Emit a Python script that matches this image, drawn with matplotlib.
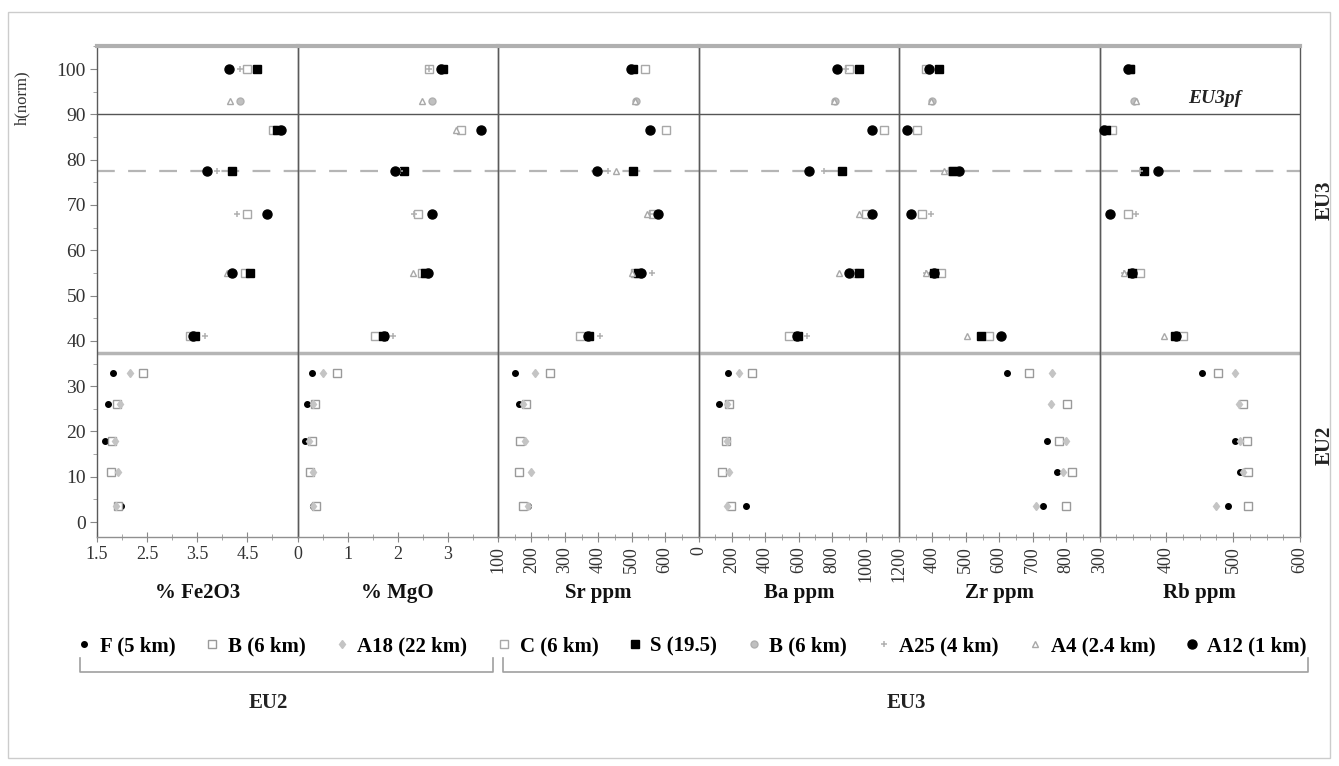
import numpy as np
import matplotlib
matplotlib.use("Agg")
import matplotlib.pyplot as plt
from matplotlib.lines import Line2D
from matplotlib.patches import Rectangle
from matplotlib.ticker import FixedLocator, MultipleLocator

plt.rcParams['font.family'] = ['Liberation Serif', 'DejaVu Serif']

nan = np.nan
# ---------------- data ----------------
panel_titles = ['% Fe2O3', '% MgO', 'Sr ppm', 'Ba ppm', 'Zr ppm', 'Rb ppm']
x_ranges = [(1.5, 5.5), (0, 4), (100, 700), (0, 1200), (300, 900), (300, 600)]
x_ticks = [[1.5, 2.5, 3.5, 4.5], [0, 1, 2, 3], [100, 200, 300, 400, 500, 600],
           [0, 200, 400, 600, 800, 1000, 1200], [400, 500, 600, 700, 800],
           [300, 400, 500, 600]]
x_tick_labels = [['1.5', '2.5', '3.5', '4.5'], ['0', '1', '2', '3'],
                 ['100', '200', '300', '400', '500', '600'],
                 ['0', '200', '400', '600', '800', '1000', '1200'],
                 ['400', '500', '600', '700', '800'],
                 ['300', '400', '500', '600']]
y_ticks = [0, 10, 20, 30, 40, 50, 60, 70, 80, 90, 100]

h_eu3 = [100, 93, 86.5, 77.5, 68, 55, 41]
h_eu2 = [33, 26, 18, 11, 3.5]

# EU2 series (rows h_eu2), one list per panel
F_5km = [[1.82, 1.72, 1.66, nan, 1.98],
         [0.28, 0.18, 0.14, nan, 0.30],
         [150, 163, nan, nan, 190],
         [174, 120, nan, nan, 282],
         [624, nan, 744, 774, 732],
         [453, 512, 502, 510, 492]]
B_6km_eu2 = [[2.42, 1.90, 1.80, 1.78, 1.92],
             [0.78, 0.34, 0.28, 0.24, 0.36],
             [255, 184, 166, 163, 175],
             [318, 180, 162, 138, 192],
             [690, 804, 780, 819, 801],
             [477, 514, 520, 522, 522]]
A18_22km = [[2.15, 1.95, 1.85, 1.92, 1.88],
            [0.50, 0.30, 0.22, 0.30, 0.30],
            [210, 175, 180, 198, 190],
            [240, 170, 170, 180, 170],
            [759, 756, 800, 790, 711],
            [502, 508, 510, 515, 475]]

# EU3 series (rows h_eu3)
C_6km = [[4.49, nan, 5.02, nan, 4.49, 4.45, 3.35],
         [2.63, nan, 3.26, nan, 2.40, 2.48, 1.55],
         [539, nan, 602, nan, 565, 510, 345],
         [900, nan, 1110, nan, 1000, 935, 540],
         [381, nan, 354, 459, 369, 426, 570],
         [345, nan, 318, nan, 342, 360, 425]]
S_19km = [[4.70, nan, 5.10, 4.19, nan, 4.55, 3.45],
          [2.90, nan, nan, 2.13, nan, 2.55, 1.70],
          [505, nan, nan, 503, nan, 520, 372],
          [960, nan, nan, 858, nan, 960, 595],
          [420, nan, nan, 462, nan, 405, 546],
          [346, nan, 310, 367, nan, 349, 413]]
B_6km_eu3 = [[nan, 4.35, nan, nan, nan, nan, nan],
             [nan, 2.69, nan, nan, nan, nan, nan],
             [nan, 512, nan, nan, nan, nan, nan],
             [nan, 816, nan, nan, nan, nan, nan],
             [nan, 399, nan, nan, nan, nan, nan],
             [nan, 352, nan, nan, nan, nan, nan]]
A25_4km = [[4.35, nan, nan, 3.90, 4.30, nan, 3.65],
           [2.63, nan, nan, 2.05, 2.33, nan, 1.91],
           [nan, nan, nan, 430, 555, 560, 405],
           [880, nan, nan, 750, nan, nan, 648],
           [nan, nan, nan, nan, 396, 381, nan],
           [nan, nan, nan, 360, 355, 337, nan]]
A4_24km = [[nan, 4.15, nan, nan, nan, 4.10, nan],
           [nan, 2.49, 3.16, nan, nan, 2.30, nan],
           [nan, 510, nan, 452, 545, 500, nan],
           [nan, 810, nan, nan, 960, 840, nan],
           [nan, 396, nan, 435, nan, 381, 504],
           [nan, 355, nan, nan, nan, 337, 397]]
A12_1km = [[4.13, nan, 5.18, 3.69, 4.90, 4.20, 3.41],
           [2.87, nan, 3.66, 1.95, 2.69, 2.61, 1.73],
           [497, nan, 554, 395, 578, 527, 369],
           [828, nan, 1038, 660, 1038, 900, 588],
           [390, nan, 324, 480, 336, 405, 606],
           [342, nan, 307, 387, 315, 349, 415]]

series = [
    ('F (5 km)', F_5km, h_eu2, dict(marker='o', ms=4, mfc='black', mec='black')),
    ('B (6 km)', B_6km_eu2, h_eu2, dict(marker='s', ms=6, mfc='white', mec='#9a9a9a', mew=1.0)),
    ('A18 (22 km)', A18_22km, h_eu2, dict(marker='d', ms=4.5, mfc='#c4c4c4', mec='#c4c4c4')),
    ('C (6 km)', C_6km, h_eu3, dict(marker='s', ms=6, mfc='white', mec='#a8a8a8', mew=1.0)),
    ('S (19.5)', S_19km, h_eu3, dict(marker='s', ms=5.5, mfc='black', mec='black')),
    ('B (6 km)', B_6km_eu3, h_eu3, dict(marker='o', ms=5, mfc='#c0c0c0', mec='#b0b0b0')),
    ('A25 (4 km)', A25_4km, h_eu3, dict(marker='+', ms=5, mfc='#b0b0b0', mec='#b0b0b0', mew=1.1)),
    ('A4 (2.4 km)', A4_24km, h_eu3, dict(marker='^', ms=5, mfc='white', mec='#a8a8a8', mew=1.0)),
    ('A12 (1 km)', A12_1km, h_eu3, dict(marker='o', ms=6.5, mfc='black', mec='black')),
]
draw_order = [2, 6, 5, 7, 1, 3, 0, 4, 8]

# ---------------- layout ----------------
W, H = 1339, 766
fig = plt.figure(figsize=(W / 100, H / 100), dpi=100)
fig.patch.set_facecolor('white')

def fx(x):
    return x / W

def fy(y):
    return 1 - y / H

left_px, right_px, top_px, bot_px = 97, 1300, 46, 537
pw = (right_px - left_px) / 6
ylim = (-3.3, 105.1)

axes = []
for i in range(6):
    ax = fig.add_axes([fx(left_px + i * pw), fy(bot_px), pw / W, (bot_px - top_px) / H])
    ax.set_xlim(*x_ranges[i])
    ax.set_ylim(*ylim)
    ax.set_facecolor('none')
    for s in ['left', 'right']:
        ax.spines[s].set_color('#5a5a5a')
        ax.spines[s].set_linewidth(1.0)
    ax.spines['top'].set_color('#b0b0b0')
    ax.spines['top'].set_linewidth(3)
    ax.spines['bottom'].set_color('#909090')
    ax.spines['bottom'].set_linewidth(1.0)
    ax.axhline(90, color='#555555', lw=1.0, zorder=1)
    ax.axhline(37.3, color='#b5b5b5', lw=2.5, zorder=1)
    ax.axhline(77.5, color='#b5b5b5', lw=1.6, ls=(0, (8, 6)), zorder=1)

    ax.xaxis.set_major_locator(FixedLocator(x_ticks[i]))
    ax.set_xticklabels(x_tick_labels[i])
    span = x_ranges[i][1] - x_ranges[i][0]
    ax.xaxis.set_minor_locator(MultipleLocator(span / 12 if i > 1 else span / 8))
    rot = 0 if i < 2 else 90
    ax.tick_params(axis='x', which='major', direction='inout', length=7, width=0.8,
                   color='#888888', labelsize=13, labelcolor='#333333',
                   labelrotation=rot, pad=3)
    ax.tick_params(axis='x', which='minor', direction='inout', length=4, width=0.6,
                   color='#999999')
    if i == 0:
        ax.set_yticks(y_ticks)
        ax.yaxis.set_minor_locator(MultipleLocator(5))
        ax.tick_params(axis='y', which='major', direction='out', length=5, width=0.8,
                       color='#888888', labelsize=14, labelcolor='#333333', pad=3)
        ax.tick_params(axis='y', which='minor', direction='out', length=3, width=0.6,
                       color='#999999')
    else:
        ax.tick_params(axis='y', which='both', left=False, labelleft=False)

    for k in draw_order:
        name, data, hh, style = series[k]
        vals = np.array(data[i], dtype=float)
        ax.plot(vals, hh, ls='none', zorder=3 + k * 0.01, clip_on=False, **style)

    ax.text(0.5, -0.115, panel_titles[i], transform=ax.transAxes, ha='center',
            va='center', fontsize=15, fontweight='bold', color='#111111')
    axes.append(ax)

# ylabel
fig.text(fx(22), fy(98), 'h(norm)', rotation=90, ha='center', va='center',
         fontsize=12, color='#333333')
# EU3pf label (in Rb panel data coordinates)
axes[5].text(473, 93.5, 'EU3pf', ha='center', va='center', fontsize=14,
             style='italic', fontweight='bold', color='#222222')
# right side labels
fig.text(fx(1325), fy(200), 'EU3', rotation=90, ha='center', va='center',
         fontsize=15, fontweight='bold', color='#222222')
fig.text(fx(1325), fy(445), 'EU2', rotation=90, ha='center', va='center',
         fontsize=15, fontweight='bold', color='#222222')

# legend
handles = [Line2D([], [], ls='none', **s[3]) for s in series]
labels = [s[0] for s in series]
leg = fig.legend(handles, labels, loc='center', bbox_to_anchor=(fx(692), fy(646)),
                 ncol=9, frameon=False, handlelength=0.7, handletextpad=0.4,
                 columnspacing=1.4, prop={'weight': 'bold', 'size': 15})

# brackets
br_col = '#a0a0a0'
for (x0, x1) in [(80, 493), (503, 1308)]:
    fig.add_artist(Line2D([fx(x0), fx(x0), fx(x1), fx(x1)],
                          [fy(658), fy(672), fy(672), fy(658)],
                          color=br_col, lw=1.2))
fig.text(fx(268), fy(703), 'EU2', ha='center', va='center', fontsize=15,
         fontweight='bold', color='#222222')
fig.text(fx(906), fy(703), 'EU3', ha='center', va='center', fontsize=15,
         fontweight='bold', color='#222222')

# outer frame
fig.add_artist(Rectangle((fx(8), fy(758)), fx(1330) - fx(8), fy(12) - fy(758),
                         transform=fig.transFigure, fill=False, edgecolor='#cccccc', lw=1.0))

fig.savefig('out.png', dpi=100)
